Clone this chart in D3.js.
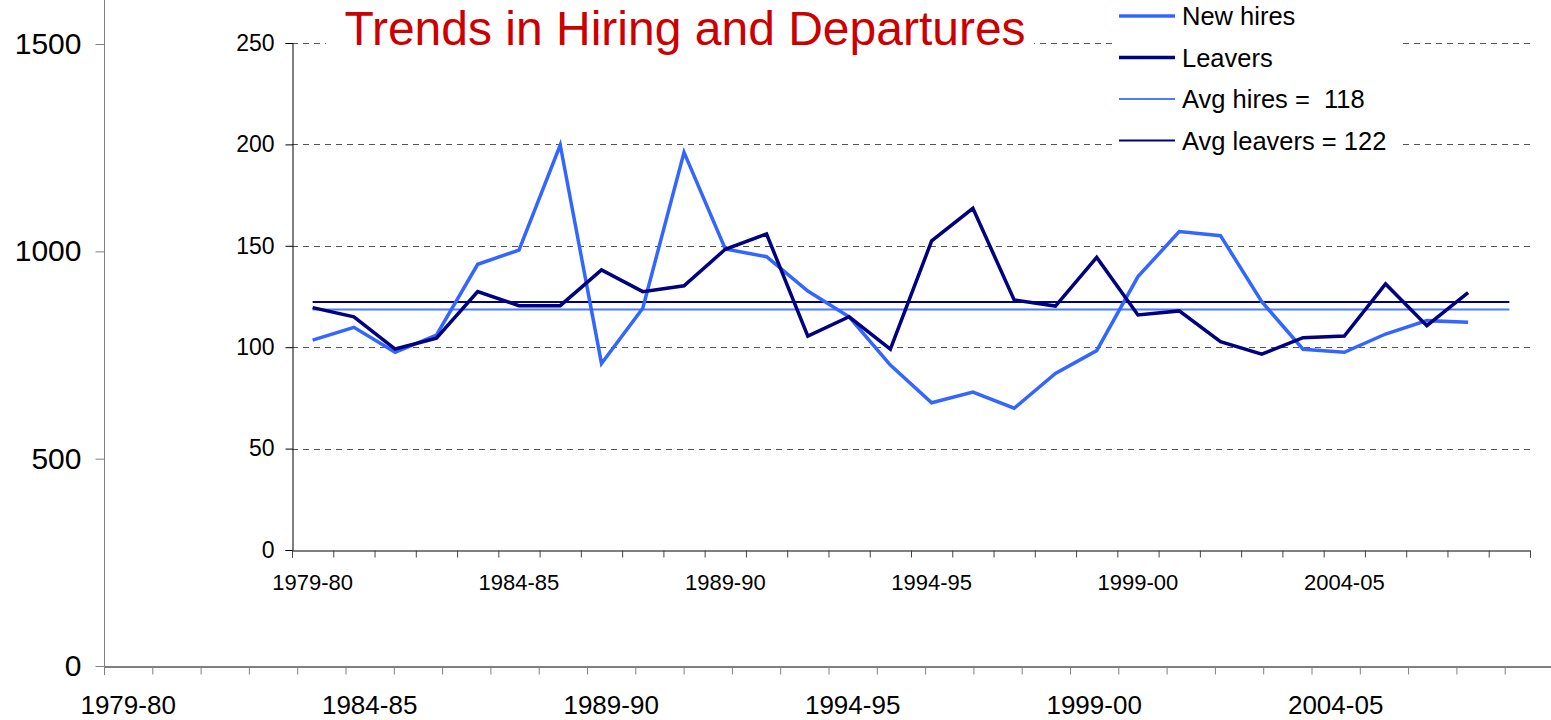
<!DOCTYPE html>
<html>
<head>
<meta charset="utf-8">
<script src="https://cdn.jsdelivr.net/npm/d3@7"></script>
<style>
body { margin: 0; background: #fff; }
svg { display: block; font-family: Arial, "Liberation Sans", sans-serif; }
</style>
</head>
<body>
<div id="chart"></div>
<script>
// categories (school years)
var years = ["1979-80","1980-81","1981-82","1982-83","1983-84","1984-85","1985-86","1986-87","1987-88","1988-89",
  "1989-90","1990-91","1991-92","1992-93","1993-94","1994-95","1995-96","1996-97","1997-98","1998-99",
  "1999-00","2000-01","2001-02","2002-03","2003-04","2004-05","2005-06","2006-07","2007-08","2008-09"]
var labelYears = ["1979-80","1984-85","1989-90","1994-95","1999-00","2004-05"]

var newHires = [103.5,109.8,97.5,106,140.9,147.9,199.7,92,119.2,196.1,148.4,144.6,127.7,115,91.2,72.6,77.9,69.9,87.1,98.3,134.8,157,155,122.4,99,97.5,106.5,113.1,112.3]
var leavers = [119.5,115,99.1,104.4,127.4,120.5,120.5,138.1,127.4,130.3,148.3,155.8,105.5,115,99,152.4,168.5,123.3,120.3,144.3,115.9,117.9,102.7,96.6,104.7,105.5,131.2,110.6,126.9]
var avgHires = 118.6
var avgLeavers = 122.3
var legendNames = ["New hires","Leavers","Avg hires =  118","Avg leavers = 122"]

var innerTicks = [0,50,100,150,200,250]
var outerTicks = [0,500,1000,1500]

var svg = d3.select("#chart")
.append("svg")
.attr("width",1551)
.attr("height",720)

// ---- outer (empty) chart ----
var xOut = d3.scaleBand().domain(years).range([104,1553])
var xOutTick = d3.scaleLinear().domain([0,30]).range([104,1553])
var yOut = d3.scaleLinear().domain([0,1500]).range([666,44])

svg.append("line")
.attr("x1",104.5).attr("x2",104.5)
.attr("y1",0).attr("y2",yOut(0))
.attr("stroke","#808080")

var yOutAxis = svg.append("g")
.attr("transform","translate(104.5,0)")
.call(d3.axisLeft(yOut).tickValues(outerTicks).tickSize(9).tickPadding(14).tickFormat(d3.format("d")))
yOutAxis.select(".domain").remove()
yOutAxis.selectAll("line").attr("stroke","#808080")
yOutAxis.selectAll("text").attr("font-size",30).attr("fill","#000").attr("font-family","Arial, Liberation Sans")

var xOutAxis = svg.append("g")
.attr("transform","translate(0,666.5)")
.call(d3.axisBottom(xOutTick).tickValues(d3.range(30)).tickSize(8).tickFormat(""))
xOutAxis.select(".domain").attr("stroke","#000")
xOutAxis.selectAll("line").attr("stroke","#808080")

svg.append("g")
.selectAll("text")
.data(labelYears)
.enter()
.append("text")
.text(function(d){return d})
.attr("x",function(d){return xOut(d)+xOut.bandwidth()/2})
.attr("y",714)
.attr("text-anchor","middle")
.attr("font-size",26)

// ---- inner chart ----
var xIn = d3.scaleBand().domain(years).range([292,1530])
var xInTick = d3.scaleLinear().domain([0,30]).range([292,1530])
var yIn = d3.scaleLinear().domain([0,250]).range([550,43])
function px(i){ return xIn(years[i]) + xIn.bandwidth()/2 }

svg.append("g")
.selectAll("line")
.data(innerTicks.filter(function(d){return d>0}))
.enter()
.append("line")
.attr("x1",292).attr("x2",1530)
.attr("y1",function(d){return Math.round(yIn(d))+0.5})
.attr("y2",function(d){return Math.round(yIn(d))+0.5})
.attr("stroke","#555")
.attr("stroke-dasharray","6,5")

var yInAxis = svg.append("g")
.attr("transform","translate(292.5,0)")
.call(d3.axisLeft(yIn).tickValues(innerTicks).tickSize(7).tickPadding(11))
yInAxis.select(".domain").attr("stroke","#000")
yInAxis.selectAll("text").attr("font-size",23).attr("fill","#000")

var xInAxis = svg.append("g")
.attr("transform","translate(0,550.5)")
.call(d3.axisBottom(xInTick).tickValues(d3.range(31)).tickSize(7).tickFormat(""))
xInAxis.select(".domain").attr("stroke","#000")
xInAxis.selectAll("line").attr("stroke","#444")

svg.append("g")
.selectAll("text")
.data(labelYears)
.enter()
.append("text")
.text(function(d){return d})
.attr("x",function(d){return xIn(d)+xIn.bandwidth()/2})
.attr("y",590)
.attr("text-anchor","middle")
.attr("font-size",22)

var avgLine = d3.line()
.x(function(d,i){return px(i)})
.y(function(d){return yIn(d)})

svg.append("path")
.datum(years.map(function(){return avgHires}))
.attr("d",avgLine)
.attr("fill","none")
.attr("stroke","#4d7cff")
.attr("stroke-width",1.8)

svg.append("path")
.datum(years.map(function(){return avgLeavers}))
.attr("d",avgLine)
.attr("fill","none")
.attr("stroke","#000080")
.attr("stroke-width",1.8)

svg.append("path")
.datum(newHires)
.attr("d",avgLine)
.attr("fill","none")
.attr("stroke","#3366ff")
.attr("stroke-width",3.5)

svg.append("path")
.datum(leavers)
.attr("d",avgLine)
.attr("fill","none")
.attr("stroke","#000080")
.attr("stroke-width",3.5)

// title box
svg.append("rect")
.attr("x",326).attr("y",2).attr("width",708).attr("height",60)
.attr("fill","#fff")
svg.append("text")
.text("Trends in Hiring and Departures")
.attr("x",685)
.attr("y",45)
.attr("text-anchor","middle")
.attr("font-size",48)
.attr("fill","#cc0000")

// legend
var legendColors = ["#3366ff","#000080","#4d7cff","#000080"]
var legendWidths = [3.5,3.5,1.8,1.8]
var legend = svg.append("g")
legend.append("rect")
.attr("x",1112).attr("y",0).attr("width",286).attr("height",162)
.attr("fill","#fff")
var rows = legend.selectAll("g.row")
.data(legendNames)
.enter()
.append("g")
.attr("transform",function(d,i){return "translate(0,"+(16+i*41.5)+")"})
rows.append("line")
.attr("x1",1119).attr("x2",1175)
.attr("stroke",function(d,i){return legendColors[i]})
.attr("stroke-width",function(d,i){return legendWidths[i]})
rows.append("text")
.text(function(d){return d})
.attr("x",1182)
.attr("y",9)
.attr("font-size",25.5)
.style("white-space","pre")
</script>
</body>
</html>
